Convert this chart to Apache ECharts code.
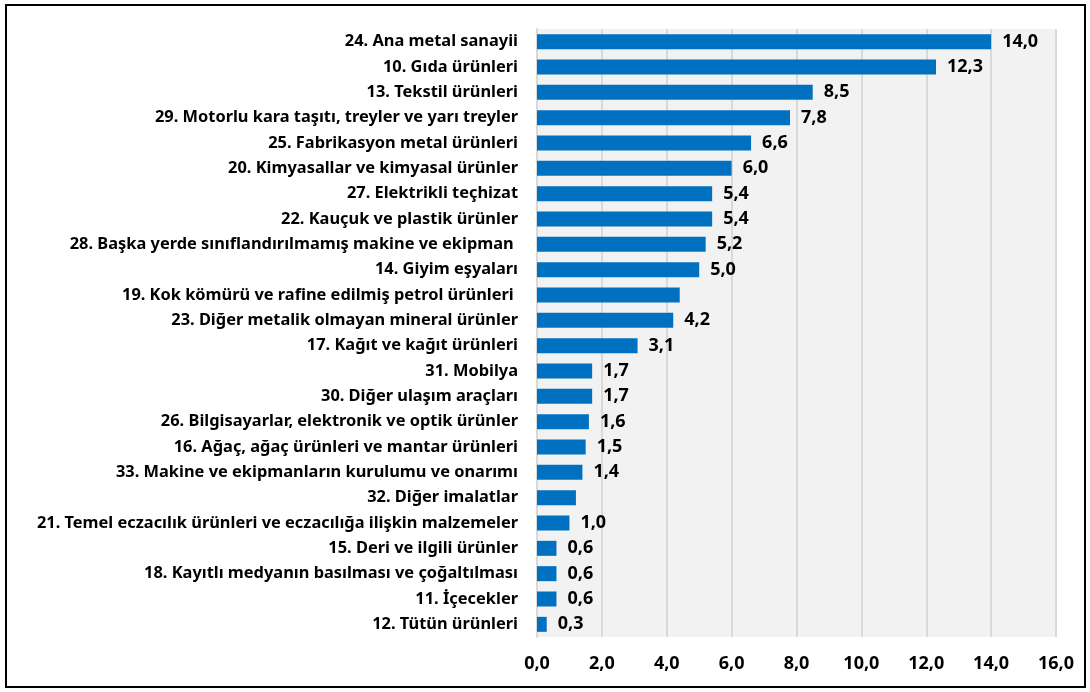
<!DOCTYPE html>
<html>
<head>
<meta charset="utf-8">
<script src="https://cdn.jsdelivr.net/npm/echarts@6/dist/echarts.min.js"></script>
<style>
  html, body { margin: 0; padding: 0; background: #fff; }
  #chart { width: 1090px; height: 692px; }
  .frame { position: absolute; left: 5px; top: 4px; width: 1077px; height: 680px; border: 2px solid #000; pointer-events: none; }
</style>
</head>
<body>
<div id="chart"></div>
<div class="frame"></div>
<script>
  // sektörler (yukarıdan aşağıya)
  const sectors = [
    '24. Ana metal sanayii',
    '10. Gıda ürünleri',
    '13. Tekstil ürünleri',
    '29. Motorlu kara taşıtı, treyler ve yarı treyler',
    '25. Fabrikasyon metal ürünleri',
    '20. Kimyasallar ve kimyasal ürünler',
    '27. Elektrikli teçhizat',
    '22. Kauçuk ve plastik ürünler',
    '28. Başka yerde sınıflandırılmamış makine ve ekipman ',
    '14. Giyim eşyaları',
    '19. Kok kömürü ve rafine edilmiş petrol ürünleri ',
    '23. Diğer metalik olmayan mineral ürünler',
    '17. Kağıt ve kağıt ürünleri',
    '31. Mobilya',
    '30. Diğer ulaşım araçları',
    '26. Bilgisayarlar, elektronik ve optik ürünler',
    '16. Ağaç, ağaç ürünleri ve mantar ürünleri',
    '33. Makine ve ekipmanların kurulumu ve onarımı',
    '32. Diğer imalatlar',
    '21. Temel eczacılık ürünleri ve eczacılığa ilişkin malzemeler',
    '15. Deri ve ilgili ürünler',
    '18. Kayıtlı medyanın basılması ve çoğaltılması',
    '11. İçecekler',
    '12. Tütün ürünleri'
  ]
  const shares = [14.0, 12.3, 8.5, 7.8, 6.6, 6.0, 5.4, 5.4, 5.2, 5.0, 4.4, 4.2, 3.1, 1.7, 1.7, 1.6, 1.5, 1.4, 1.2, 1.0, 0.6, 0.6, 0.6, 0.3]
  // grafikte etiketi görünmeyen çubuklar
  const hiddenLabels = ['19. Kok kömürü ve rafine edilmiş petrol ürünleri ', '32. Diğer imalatlar']
  const xTicks = { min: 0, max: 16, interval: 2 }

  const fmt = v => v.toFixed(1).replace('.', ',')
  const font = "'Noto Sans', sans-serif"

  const chart = echarts.init(document.getElementById('chart'))
  chart.setOption({
    animation: false,
    grid: { left: 537, right: 34, top: 29, bottom: 55, backgroundColor: '#f2f2f2', show: true, borderWidth: 0 },
    xAxis: {
      type: 'value',
      min: xTicks.min,
      max: xTicks.max,
      interval: xTicks.interval,
      axisLine: { show: false },
      axisTick: { show: false },
      splitLine: { show: true, lineStyle: { color: '#d9d9d9', width: 2 } },
      axisLabel: { formatter: fmt, color: '#000', fontWeight: 'bold', fontSize: 18, fontFamily: font, margin: 18 }
    },
    yAxis: {
      type: 'category',
      inverse: true,
      data: sectors,
      axisLine: { show: true, lineStyle: { color: '#d9d9d9', width: 2 } },
      axisTick: { show: false },
      axisLabel: { color: '#000', fontWeight: 'bold', fontSize: 16.4, fontFamily: font, margin: 19 }
    },
    series: [{
      type: 'bar',
      data: shares.map((v, i) => ({
        value: v,
        label: { show: hiddenLabels.indexOf(sectors[i]) < 0 }
      })),
      barWidth: 15,
      itemStyle: { color: '#0070c0' },
      label: {
        position: 'right',
        distance: 11,
        formatter: p => fmt(p.value),
        color: '#000',
        fontWeight: 'bold',
        fontSize: 18,
        fontFamily: font
      }
    }]
  })
</script>
</body>
</html>
